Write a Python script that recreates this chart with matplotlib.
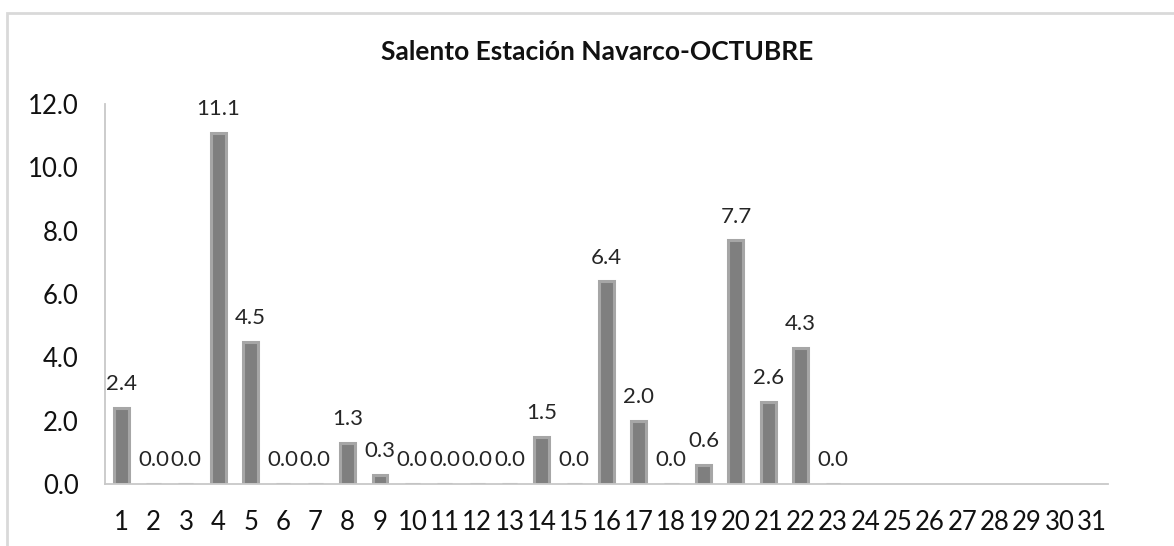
import matplotlib
matplotlib.use("Agg")
import matplotlib.pyplot as plt
from matplotlib.patches import Rectangle

plt.rcParams['font.family'] = ['Lato', 'DejaVu Sans']

title = "Salento Estación Navarco-OCTUBRE"
days = [str(d) for d in range(1, 32)]
values = [2.4, 0.0, 0.0, 11.1, 4.5, 0.0, 0.0, 1.3, 0.3, 0.0, 0.0, 0.0, 0.0,
          1.5, 0.0, 6.4, 2.0, 0.0, 0.6, 7.7, 2.6, 4.3, 0.0]
yticks = [0, 2, 4, 6, 8, 10, 12]

fig = plt.figure(figsize=(11.74, 5.46), dpi=100)
ax = fig.add_axes([105/1174, 1-484/546, (1108-105)/1174, (484-104)/546])

# outer chart border
fig.patches.append(Rectangle((7/1174, -0.1), 1.2, 1-13/546+0.1, transform=fig.transFigure,
                             fill=False, edgecolor='#d9d9d9', linewidth=2))

x = list(range(len(values)))
bars = ax.bar(x, values, width=0.46, color='#7f7f7f', edgecolor='#a6a6a6', linewidth=2.2)
for xi, v in zip(x, values):
    ax.annotate(f"{v:.1f}", (xi, v), xytext=(0, 17), textcoords='offset points',
                ha='center', va='center', fontsize=16, color='#262626')

ax.set_xlim(-0.5, len(days) - 0.5)
ax.set_ylim(0, 12)
ax.set_xticks(range(len(days)))
ax.set_xticklabels(days, fontsize=18.5, color='#111111')
ax.set_yticks(yticks)
ax.set_yticklabels([f"{t:.1f}" for t in yticks], fontsize=18.5, color='#111111')
ax.tick_params(axis='both', length=0)
ax.tick_params(axis='y', pad=19)
ax.tick_params(axis='x', pad=19)
for s in ['top', 'right']:
    ax.spines[s].set_visible(False)
for s in ['left', 'bottom']:
    ax.spines[s].set_color('#c8c8c8')
    ax.spines[s].set_linewidth(1.3)

fig.text(597/1174, 1-52/546, title, ha='center', va='center', fontsize=19,
         fontweight='bold', color='#111111')

fig.savefig('out.png', dpi=100)
